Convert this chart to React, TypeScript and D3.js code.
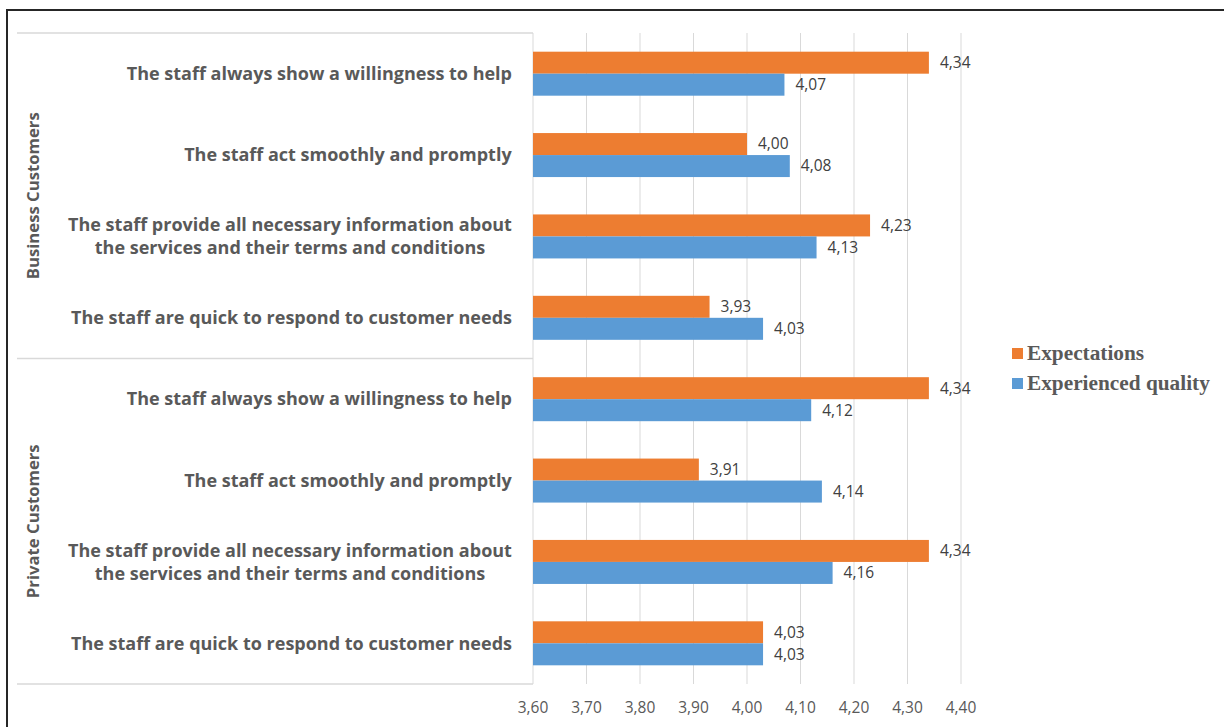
import React, { useEffect, useRef } from "react";
import * as d3 from "d3";

const groups = ["Business Customers", "Private Customers"];
const categories = [
  ["The staff always show a willingness to help"],
  ["The staff act smoothly and promptly"],
  ["The staff provide all necessary information about", "the services and their terms and conditions"],
  ["The staff are quick to respond to customer needs"],
];
const seriesNames = ["Expectations", "Experienced quality"];
const seriesColors = ["#ED7D31", "#5B9BD5"];
const expectations = [
  [4.34, 4.0, 4.23, 3.93],
  [4.34, 3.91, 4.34, 4.03],
];
const experienced = [
  [4.07, 4.08, 4.13, 4.03],
  [4.12, 4.14, 4.16, 4.03],
];
const xTicks = [3.6, 3.7, 3.8, 3.9, 4.0, 4.1, 4.2, 4.3, 4.4];

const W = 1224;
const H = 727;
const FONT = "'Open Sans', Lato, sans-serif";

export default function App() {
  const ref = useRef<SVGSVGElement | null>(null);

  useEffect(() => {
    const svg = d3.select(ref.current);
    svg.selectAll("*").remove();

    const plotTop = 33;
    const plotBottom = 684;
    const x = d3.scaleLinear().domain([3.6, 4.4]).range([533, 961]);

    const rows: { g: number; c: number; key: string }[] = [];
    groups.forEach((_, gi) => categories.forEach((_, ci) => rows.push({ g: gi, c: ci, key: `${gi}-${ci}` })));

    const y = d3.scaleBand<string>().domain(rows.map((r) => r.key)).range([plotTop, plotBottom]);
    const barH = 22;

    // outer border
    svg.append("path").attr("d", `M7,${H + 5} L7,10 L${W + 5},10`).attr("fill", "none").attr("stroke", "#262626").attr("stroke-width", 2);

    // gridlines
    svg
      .append("g")
      .selectAll("line")
      .data(xTicks)
      .join("line")
      .attr("x1", (d) => x(d))
      .attr("x2", (d) => x(d))
      .attr("y1", plotTop)
      .attr("y2", plotBottom)
      .attr("stroke", "#D9D9D9")
      .attr("stroke-width", 1);

    // category group separators
    const sepYs = [plotTop, y(rows[4].key)!, plotBottom];
    svg
      .append("g")
      .selectAll("line")
      .data(sepYs)
      .join("line")
      .attr("x1", 17)
      .attr("x2", x(3.6))
      .attr("y1", (d) => d)
      .attr("y2", (d) => d)
      .attr("stroke", "#D9D9D9")
      .attr("stroke-width", 1.3);

    // bars
    const barG = svg.append("g");
    rows.forEach((r) => {
      const cy = y(r.key)! + y.bandwidth() / 2;
      const vals = [expectations[r.g][r.c], experienced[r.g][r.c]];
      vals.forEach((v, si) => {
        const top = si === 0 ? cy - barH : cy;
        barG
          .append("rect")
          .attr("x", x(3.6))
          .attr("y", top)
          .attr("width", x(v) - x(3.6))
          .attr("height", barH)
          .attr("fill", seriesColors[si]);
        barG
          .append("text")
          .attr("x", x(v) + 11)
          .attr("y", top + barH / 2)
          .attr("dy", "0.35em")
          .attr("font-family", FONT)
          .attr("font-size", 15.5)
          .attr("fill", "#404040")
          .text(d3.format(".2f")(v).replace(".", ","));
      });
    });

    // category labels
    const labG = svg.append("g");
    rows.forEach((r) => {
      const cy = y(r.key)! + y.bandwidth() / 2;
      const lines = categories[r.c];
      const t = labG
        .append("text")
        .attr("font-family", FONT)
        .attr("font-weight", "bold")
        .attr("font-size", 18)
        .attr("fill", "#595959")
        .attr("text-anchor", "middle");
      const lh = 23;
      lines.forEach((ln, i) => {
        t.append("tspan")
          .attr("x", 0)
          .attr("y", cy + (i - (lines.length - 1) / 2) * lh)
          .attr("dy", "0.35em")
          .text(ln);
      });
      const bb = (t.node() as SVGTextElement).getBBox();
      t.attr("transform", `translate(${512 - bb.width / 2},0)`);
    });

    // group labels
    groups.forEach((gname, gi) => {
      const y0 = sepYs[gi];
      const y1 = sepYs[gi + 1];
      svg
        .append("text")
        .attr("transform", `translate(33,${(y0 + y1) / 2}) rotate(-90)`)
        .attr("text-anchor", "middle")
        .attr("dy", "0.35em")
        .attr("font-family", FONT)
        .attr("font-weight", "bold")
        .attr("font-size", 16.7)
        .attr("fill", "#595959")
        .text(gname);
    });

    // x-axis tick labels
    svg
      .append("g")
      .selectAll("text")
      .data(xTicks)
      .join("text")
      .attr("x", (d) => x(d))
      .attr("y", 708)
      .attr("dy", "0.35em")
      .attr("text-anchor", "middle")
      .attr("font-family", FONT)
      .attr("font-size", 15.5)
      .attr("fill", "#595959")
      .text((d) => d3.format(".2f")(d).replace(".", ","));

    // legend
    const leg = svg.append("g");
    seriesNames.forEach((s, i) => {
      const ly = 353 + i * 30;
      leg.append("rect").attr("x", 1012).attr("y", ly - 5).attr("width", 11).attr("height", 11).attr("fill", seriesColors[i]);
      leg
        .append("text")
        .attr("x", 1027)
        .attr("y", ly)
        .attr("dy", "0.35em")
        .attr("font-family", "'Liberation Serif', 'Times New Roman', serif")
        .attr("font-weight", "bold")
        .attr("font-size", 21.3)
        .attr("fill", "#595959")
        .text(s);
    });
  }, []);

  return (
    <svg
      ref={ref}
      width={W}
      height={H}
      style={{ position: "absolute", left: 0, top: 0, background: "#fff" }}
    />
  );
}
